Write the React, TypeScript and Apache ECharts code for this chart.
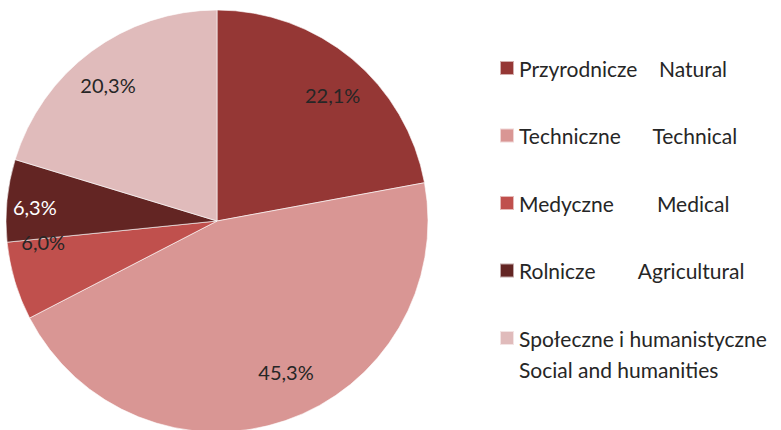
import React, { useEffect, useRef } from "react";
import * as echarts from "echarts";

const plNames = ["Przyrodnicze", "Techniczne", "Medyczne", "Rolnicze", "Społeczne i humanistyczne"];
const enNames = ["Natural", "Technical", "Medical", "Agricultural", "Social and humanities"];
const values = [22.1, 45.3, 6.0, 6.3, 20.3];
const valueLabels = ["22,1%", "45,3%", "6,0%", "6,3%", "20,3%"];

const colors = ["#953735", "#D99694", "#C0504D", "#632523", "#E0BBBB"];
const labelColors = ["#262626", "#262626", "#262626", "#ffffff", "#262626"];
const labelOffsets = [[5, 7], [13, -13], [-8, -28], [-10, 3], [-6, 3]];
const legendGaps = ["    ", "      ", "        ", "        ", ""];

const FONT = "Lato, 'Open Sans', sans-serif";

export default function App() {
  const ref = useRef<HTMLDivElement>(null);
  useEffect(() => {
    if (!ref.current) return;
    const chart = echarts.init(ref.current, undefined, { renderer: "svg" });
    const names = plNames.map((p, i) => (i < 4 ? `${p}${legendGaps[i]}${enNames[i]}` : p));
    const legendFormatter = (name: string) => {
      const i = names.indexOf(name);
      return i === 4 ? `\n${plNames[4]}\n${enNames[4]}` : name;
    };
    const pieData = values.map((v, i) => ({
      name: names[i],
      value: v,
      itemStyle: { color: colors[i] },
    }));
    const labelData = values.map((v, i) => ({
      name: names[i],
      value: v,
      label: {
        show: true,
        position: "inside",
        formatter: valueLabels[i],
        color: labelColors[i],
        offset: labelOffsets[i],
      },
    }));
    const legendText = { fontFamily: FONT, fontSize: 21, lineHeight: 24, color: "#262626" };
    chart.setOption({
      animation: false,
      backgroundColor: "#ffffff",
      legend: [
        {
          orient: "vertical",
          left: 499,
          top: 56,
          padding: 0,
          itemWidth: 14,
          itemHeight: 14,
          itemGap: 43.5,
          icon: "rect",
          selectedMode: false,
          data: names.slice(0, 4),
          formatter: legendFormatter,
          textStyle: legendText,
        },
        {
          orient: "vertical",
          left: 499,
          top: 291.5,
          padding: 0,
          itemWidth: 14,
          itemHeight: 14,
          icon: "rect",
          selectedMode: false,
          data: [names[4]],
          formatter: legendFormatter,
          textStyle: { ...legendText, lineHeight: 31 },
        },
      ],
      series: [
        {
          type: "pie",
          center: [217, 221],
          radius: [0, 211],
          startAngle: 90,
          clockwise: true,
          silent: true,
          label: { show: false },
          labelLine: { show: false },
          itemStyle: { borderColor: "rgba(255,255,255,0.6)", borderWidth: 1 },
          data: pieData,
        },
        {
          type: "pie",
          center: [217, 221],
          radius: [0, 340],
          startAngle: 90,
          clockwise: true,
          silent: true,
          itemStyle: { color: "rgba(0,0,0,0)" },
          label: { fontFamily: FONT, fontSize: 20 },
          labelLine: { show: false },
          data: labelData,
        },
      ],
    });
    return () => chart.dispose();
  }, []);
  return <div ref={ref} style={{ width: 781, height: 430, position: "absolute", left: 0, top: 0 }} />;
}
